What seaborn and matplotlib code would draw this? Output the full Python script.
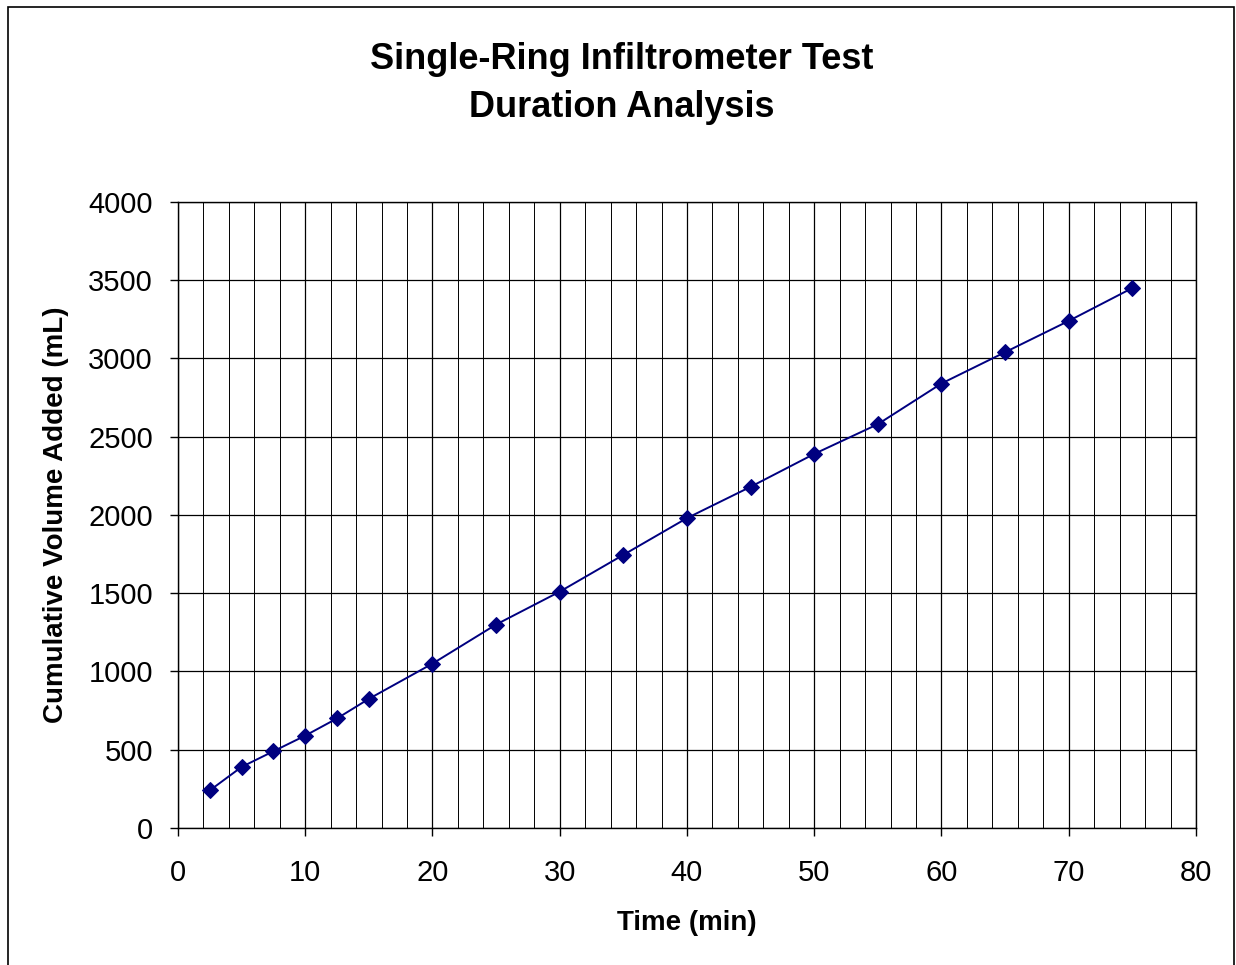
import matplotlib
matplotlib.use("Agg")
import matplotlib.pyplot as plt
import seaborn as sns
import pandas as pd
from matplotlib.patches import Rectangle

# Data
time_min = [2.5, 5, 7.5, 10, 12.5, 15, 20, 25, 30, 35, 40, 45, 50, 55, 60, 65, 70, 75]
volume_ml = [240, 390, 490, 590, 700, 825, 1050, 1300, 1510, 1745, 1980, 2180,
             2390, 2580, 2840, 3040, 3240, 3450]
x_ticks = [0, 10, 20, 30, 40, 50, 60, 70, 80]
y_ticks = [0, 500, 1000, 1500, 2000, 2500, 3000, 3500, 4000]

df = pd.DataFrame({"Time (min)": time_min, "Cumulative Volume Added (mL)": volume_ml})

sns.set_style("white")
plt.rcParams["font.family"] = ["Liberation Sans", "DejaVu Sans"]
plt.rcParams["text.color"] = "black"
plt.rcParams["axes.labelcolor"] = "black"
plt.rcParams["xtick.color"] = "black"
plt.rcParams["ytick.color"] = "black"

fig = plt.figure(figsize=(12.36, 9.65), dpi=100)
ax = fig.add_axes([0.144, 0.142, 0.8236, 0.6487])

sns.lineplot(data=df, x="Time (min)", y="Cumulative Volume Added (mL)", ax=ax,
             color="#000080", linewidth=1.4, marker="D", markersize=8,
             markeredgecolor="#000080", markerfacecolor="#000080")

ax.set_xlim(0, 80)
ax.set_ylim(0, 4000)
ax.set_xticks(x_ticks)
ax.set_xticks(range(0, 81, 2), minor=True)
ax.set_yticks(y_ticks)
ax.grid(True, which="major", color="black", linewidth=0.9)
ax.grid(True, which="minor", axis="x", color="black", linewidth=0.7)
ax.set_axisbelow(True)

ax.tick_params(axis="both", which="major", labelsize=21, length=6, width=1,
               direction="out", color="black", labelcolor="black",
               bottom=True, left=True)
ax.tick_params(axis="x", which="major", pad=16)
ax.tick_params(axis="y", which="major", pad=12)
ax.tick_params(axis="x", which="minor", length=0)
ax.set_xlabel("Time (min)", fontsize=20, fontweight="bold", labelpad=17, color="black")
ax.set_ylabel("Cumulative Volume Added (mL)", fontsize=20, fontweight="bold",
              labelpad=14, color="black")

for s in ax.spines.values():
    s.set_color("black")
    s.set_linewidth(1)

fig.text(0.503, 0.938, "Single-Ring Infiltrometer Test", ha="center", va="center",
         fontsize=26, fontweight="bold", color="black")
fig.text(0.503, 0.889, "Duration Analysis", ha="center", va="center",
         fontsize=26, fontweight="bold", color="black")

# outer border
fig.patches.append(Rectangle((8 / 1236, -0.01), 1226 / 1236, 1 - 7 / 965 + 0.01,
                             transform=fig.transFigure, fill=False,
                             edgecolor="black", linewidth=1.2))

fig.savefig("out.png", dpi=100)
